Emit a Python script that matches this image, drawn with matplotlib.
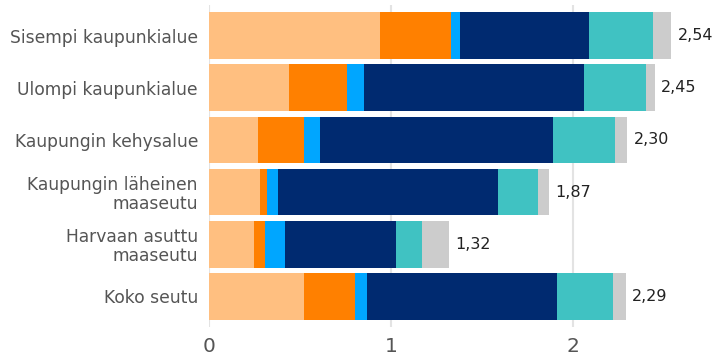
import numpy as np
import matplotlib.pyplot as plt

categories = ["Sisempi kaupunkialue", "Ulompi kaupunkialue", "Kaupungin kehysalue",
              "Kaupungin läheinen\nmaaseutu", "Harvaan asuttu\nmaaseutu", "Koko seutu"]

# stacked segments, left to right
seg1 = [0.94, 0.44, 0.27, 0.28, 0.25, 0.52]
seg2 = [0.39, 0.32, 0.25, 0.04, 0.06, 0.28]
seg3 = [0.05, 0.09, 0.09, 0.06, 0.11, 0.07]
seg4 = [0.71, 1.21, 1.28, 1.21, 0.61, 1.04]
seg5 = [0.35, 0.34, 0.34, 0.22, 0.14, 0.31]
seg6 = [0.10, 0.05, 0.07, 0.06, 0.15, 0.07]
totals = ["2,54", "2,45", "2,30", "1,87", "1,32", "2,29"]

colors = ["#FFBF80", "#FF8000", "#00A6FF", "#002A70", "#40C2C2", "#CCCCCC"]

fig = plt.figure(figsize=(7.13, 3.56), dpi=100)
ax = fig.add_axes([209 / 713, 29 / 356, 504 / 713, 322 / 356])

y = np.arange(len(categories))
left = np.zeros(len(categories))
for vals, c in zip([seg1, seg2, seg3, seg4, seg5, seg6], colors):
    ax.barh(y, vals, left=left, height=0.9, color=c, zorder=2)
    left = left + np.array(vals)

for yi, tot, lab in zip(y, left, totals):
    ax.text(tot + 0.035, yi, lab, va="center", ha="left", fontsize=11.5, color="#222222")

ax.set_xlim(0, 2.77)
ax.set_ylim(5.59, -0.59)
ax.set_yticks(y)
ax.set_yticklabels(categories, fontsize=12.3, color="#555555", linespacing=1.05)
ax.set_xticks([0, 1, 2])
ax.set_xticklabels(["0", "1", "2"], fontsize=14.5, color="#555555")
ax.tick_params(axis="both", length=0)
ax.tick_params(axis="y", pad=8)
ax.tick_params(axis="x", pad=7)
ax.grid(axis="x", color="#E3E3E3", linewidth=1.5, zorder=0)
for s in ax.spines.values():
    s.set_visible(False)

fig.savefig("out.png", dpi=100)
